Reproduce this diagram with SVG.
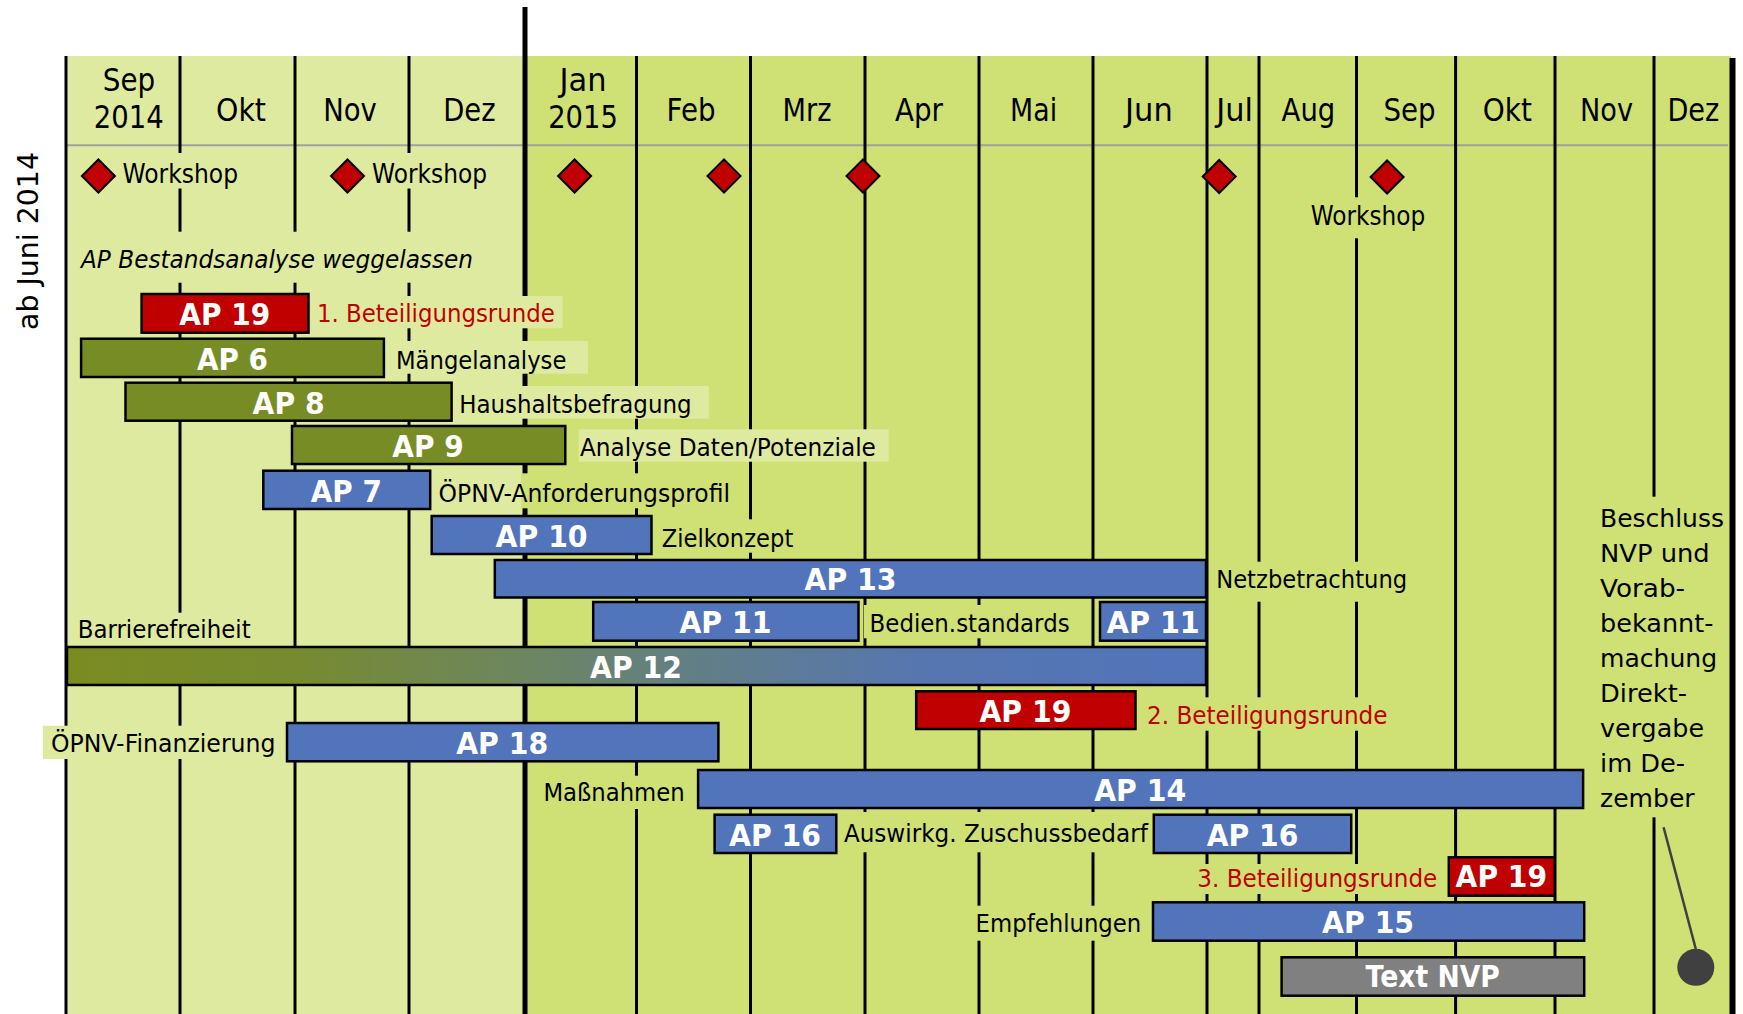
<svg xmlns="http://www.w3.org/2000/svg" width="1743" height="1014" viewBox="0 0 1743 1014">
<style>
text{font-family:'DejaVu Sans','Liberation Sans',sans-serif}
.mo{font-size:31.5px;fill:#000}
.lb{font-size:25.5px;fill:#000}
.ws{font-size:26.5px;fill:#000}
.red{fill:#C00000}
.bt{font-size:30.5px;font-weight:bold;fill:#fff}
.vl{stroke:#000;stroke-width:3;fill:none}
.bar{stroke:#000;stroke-width:2.5}
.ol{fill:#788C26}
.bl{fill:#5274BA}
.rd{fill:#C00000}
.gy{fill:#808080}
.lbg{fill:#DFEAA1}
.dbg{fill:#CFE075}
.dia{fill:#C00000;stroke:#000;stroke-width:2}
</style>
<defs>
<linearGradient id="g12" x1="67" y1="0" x2="1206" y2="0" gradientUnits="userSpaceOnUse">
<stop offset="0" stop-color="#7A8C20"/>
<stop offset="0.2" stop-color="#778A30"/>
<stop offset="0.4" stop-color="#6D8660"/>
<stop offset="0.55" stop-color="#627F86"/>
<stop offset="0.75" stop-color="#5676B0"/>
<stop offset="1" stop-color="#5274BA"/>
</linearGradient>
<path id="dm" class="dia" d="M0,-16.5 L16.5,0 L0,16.5 L-16.5,0Z"/>
</defs>
<rect width="1743" height="1014" fill="#fff"/>
<g id="background">
<rect x="66" y="56" width="459" height="958" class="lbg"/>
<rect x="525" y="56" width="1206" height="958" class="dbg"/>
<line x1="66" y1="145.3" x2="1728" y2="145.3" stroke="#A0A0A0" stroke-width="2"/>
</g>
<g id="grid">
<path class="vl" d="M66,56V1014M180,56V1014M295,56V1014M409,56V1014M636.5,56V1014M750.5,56V1014M865,56V1014M979,56V1014M1093,56V1014M1207,56V1014M1259,56V1014M1356.5,56V1014M1455.6,56V1014M1555,56V1014M1654,56V1014"/>
<line x1="525" y1="7" x2="525" y2="1014" stroke="#000" stroke-width="5"/>
<rect x="1729.5" y="58" width="6" height="956" fill="#000"/>
</g>
<g id="month-labels">
<text class="mo" x="102.8" y="90.7" textLength="52.4" lengthAdjust="spacingAndGlyphs">Sep</text>
<text class="mo" x="93.8" y="128.3" textLength="70" lengthAdjust="spacingAndGlyphs">2014</text>
<text class="mo" x="216" y="120.7" textLength="50" lengthAdjust="spacingAndGlyphs">Okt</text>
<text class="mo" x="323.2" y="120.7" textLength="53.6" lengthAdjust="spacingAndGlyphs">Nov</text>
<text class="mo" x="443.2" y="120.7" textLength="52.4" lengthAdjust="spacingAndGlyphs">Dez</text>
<text class="mo" x="559.5" y="90.7" textLength="47" lengthAdjust="spacingAndGlyphs">Jan</text>
<text class="mo" x="548.2" y="128.3" textLength="69.7" lengthAdjust="spacingAndGlyphs">2015</text>
<text class="mo" x="666.5" y="120.7" textLength="49" lengthAdjust="spacingAndGlyphs">Feb</text>
<text class="mo" x="782.5" y="120.7" textLength="49" lengthAdjust="spacingAndGlyphs">Mrz</text>
<text class="mo" x="895" y="120.7" textLength="48" lengthAdjust="spacingAndGlyphs">Apr</text>
<text class="mo" x="1010.1" y="120.7" textLength="47" lengthAdjust="spacingAndGlyphs">Mai</text>
<text class="mo" x="1125.1" y="120.7" textLength="47.8" lengthAdjust="spacingAndGlyphs">Jun</text>
<text class="mo" x="1216.2" y="120.7" textLength="36.7" lengthAdjust="spacingAndGlyphs">Jul</text>
<text class="mo" x="1281.6" y="120.7" textLength="53.7" lengthAdjust="spacingAndGlyphs">Aug</text>
<text class="mo" x="1383.4" y="120.7" textLength="52.2" lengthAdjust="spacingAndGlyphs">Sep</text>
<text class="mo" x="1482.8" y="120.7" textLength="49.2" lengthAdjust="spacingAndGlyphs">Okt</text>
<text class="mo" x="1580" y="120.7" textLength="53" lengthAdjust="spacingAndGlyphs">Nov</text>
<text class="mo" x="1667.4" y="120.7" textLength="51.8" lengthAdjust="spacingAndGlyphs">Dez</text>
</g>
<g id="label-boxes">
<rect class="lbg" x="118" y="153" width="124" height="35.5"/>
<rect class="lbg" x="368" y="153" width="123" height="35.5"/>
<rect class="dbg" x="1306" y="197.3" width="124" height="41"/>
<rect class="lbg" x="75" y="231.7" width="405" height="51"/>
<rect class="lbg" x="315.7" y="296" width="246.9" height="32.3"/>
<rect class="lbg" x="392" y="341" width="196" height="32.7"/>
<rect class="lbg" x="455" y="386" width="253.8" height="32.7"/>
<rect class="lbg" x="578.7" y="429.3" width="310" height="32.4"/>
<rect class="dbg" x="521" y="473.3" width="214" height="35"/>
<rect class="dbg" x="656" y="519.3" width="142" height="33.4"/>
<rect class="dbg" x="1212" y="561.7" width="200" height="40"/>
<rect class="dbg" x="864" y="605" width="210" height="33.3"/>
<rect class="lbg" x="72" y="612.7" width="184" height="34"/>
<rect class="dbg" x="1143" y="697.3" width="249" height="33.4"/>
<rect class="lbg" x="42.9" y="725.7" width="240" height="33.3"/>
<rect class="dbg" x="540" y="775.7" width="149" height="33.3"/>
<rect class="dbg" x="840" y="812" width="310" height="40.3"/>
<rect class="dbg" x="1193" y="864" width="249" height="30"/>
<rect class="dbg" x="971" y="905.7" width="175" height="35"/>
<rect class="dbg" x="1594" y="496.7" width="135" height="320.6"/>
</g>
<g id="milestones">
<use href="#dm" x="98.4" y="176"/>
<use href="#dm" x="347.5" y="176"/>
<use href="#dm" x="574.6" y="176"/>
<use href="#dm" x="724" y="176"/>
<use href="#dm" x="863" y="176"/>
<use href="#dm" x="1219.2" y="176.5"/>
<use href="#dm" x="1387.1" y="177"/>
<text class="ws" x="122.5" y="182.7" textLength="115.5" lengthAdjust="spacingAndGlyphs">Workshop</text>
<text class="ws" x="372" y="182.7" textLength="115" lengthAdjust="spacingAndGlyphs">Workshop</text>
<text class="ws" x="1310.7" y="225" textLength="114.6" lengthAdjust="spacingAndGlyphs">Workshop</text>
</g>
<text x="81" y="267.7" font-size="25" font-style="italic" textLength="392" lengthAdjust="spacingAndGlyphs">AP Bestandsanalyse weggelassen</text>
<g id="ap19a"><rect class="bar rd" x="141.6" y="294" width="166.9" height="38.7"/><text class="bt" x="179.3" y="325" textLength="91" lengthAdjust="spacingAndGlyphs">AP 19</text><text class="lb red" x="316.9" y="322.3" textLength="238" lengthAdjust="spacingAndGlyphs">1. Beteiligungsrunde</text></g>
<g id="ap6"><rect class="bar ol" x="81.1" y="338.7" width="302.8" height="38.3"/><text class="bt" x="197" y="370" textLength="71" lengthAdjust="spacingAndGlyphs">AP 6</text><text class="lb" x="396" y="369.3" textLength="170.4" lengthAdjust="spacingAndGlyphs">Mängelanalyse</text></g>
<g id="ap8"><rect class="bar ol" x="125.5" y="382.7" width="326.1" height="38"/><text class="bt" x="252.6" y="414" textLength="72" lengthAdjust="spacingAndGlyphs">AP 8</text><text class="lb" x="459.2" y="412.7" textLength="232.4" lengthAdjust="spacingAndGlyphs">Haushaltsbefragung</text></g>
<g id="ap9"><rect class="bar ol" x="292" y="426" width="273.3" height="38"/><text class="bt" x="392.3" y="457.3" textLength="71.5" lengthAdjust="spacingAndGlyphs">AP 9</text><text class="lb" x="579.9" y="456" textLength="296" lengthAdjust="spacingAndGlyphs">Analyse Daten/Potenziale</text></g>
<g id="ap7"><rect class="bar bl" x="263.3" y="470.7" width="166.9" height="38.3"/><text class="bt" x="310.8" y="501.7" textLength="71" lengthAdjust="spacingAndGlyphs">AP 7</text><text class="lb" x="438.5" y="501.7" textLength="291.5" lengthAdjust="spacingAndGlyphs">ÖPNV-Anforderungsprofil</text></g>
<g id="ap10"><rect class="bar bl" x="431.7" y="516" width="219.8" height="38"/><text class="bt" x="495.6" y="546.7" textLength="92" lengthAdjust="spacingAndGlyphs">AP 10</text><text class="lb" x="661.7" y="546.7" textLength="131.6" lengthAdjust="spacingAndGlyphs">Zielkonzept</text></g>
<g id="ap13"><rect class="bar bl" x="494.8" y="560" width="711.2" height="37.5"/><text class="bt" x="804.5" y="590" textLength="92" lengthAdjust="spacingAndGlyphs">AP 13</text><text class="lb" x="1216.2" y="588.3" textLength="191" lengthAdjust="spacingAndGlyphs">Netzbetrachtung</text></g>
<g id="ap11a"><rect class="bar bl" x="593.2" y="602" width="265.3" height="38.7"/><text class="bt" x="679.4" y="633.3" textLength="92" lengthAdjust="spacingAndGlyphs">AP 11</text><text class="lb" x="869.6" y="631.7" textLength="200" lengthAdjust="spacingAndGlyphs">Bedien.standards</text></g>
<g id="ap11b"><rect class="bar bl" x="1100" y="602" width="106" height="38.7"/><text class="bt" x="1106.8" y="633.3" textLength="93" lengthAdjust="spacingAndGlyphs">AP 11</text></g>
<g id="ap12"><text class="lb" x="77.7" y="638.3" textLength="173" lengthAdjust="spacingAndGlyphs">Barrierefreiheit</text><rect class="bar" fill="url(#g12)" x="67" y="647" width="1139" height="38"/><text class="bt" x="590" y="678" textLength="92" lengthAdjust="spacingAndGlyphs">AP 12</text></g>
<g id="ap19b"><rect class="bar rd" x="916.2" y="691.3" width="219.3" height="37.7"/><text class="bt" x="979.4" y="722.3" textLength="92" lengthAdjust="spacingAndGlyphs">AP 19</text><text class="lb red" x="1147" y="724" textLength="240.5" lengthAdjust="spacingAndGlyphs">2. Beteiligungsrunde</text></g>
<g id="ap18"><text class="lb" x="50.9" y="752.3" textLength="224.6" lengthAdjust="spacingAndGlyphs">ÖPNV-Finanzierung</text><rect class="bar bl" x="287" y="723" width="431.4" height="38.3"/><text class="bt" x="456.2" y="754" textLength="92" lengthAdjust="spacingAndGlyphs">AP 18</text></g>
<g id="ap14"><text class="lb" x="543.4" y="801.3" textLength="141.3" lengthAdjust="spacingAndGlyphs">Maßnahmen</text><rect class="bar bl" x="698.1" y="770" width="885" height="38"/><text class="bt" x="1094.2" y="800.7" textLength="92" lengthAdjust="spacingAndGlyphs">AP 14</text></g>
<g id="ap16a"><rect class="bar bl" x="714.6" y="814.7" width="121.7" height="38.3"/><text class="bt" x="729" y="845.7" textLength="92" lengthAdjust="spacingAndGlyphs">AP 16</text><text class="lb" x="843.9" y="842.3" textLength="303.9" lengthAdjust="spacingAndGlyphs">Auswirkg. Zuschussbedarf</text></g>
<g id="ap16b"><rect class="bar bl" x="1153.8" y="814.7" width="197.4" height="38.3"/><text class="bt" x="1206.7" y="845.7" textLength="91.6" lengthAdjust="spacingAndGlyphs">AP 16</text></g>
<g id="ap19c"><text class="lb red" x="1197.3" y="886.7" textLength="240" lengthAdjust="spacingAndGlyphs">3. Beteiligungsrunde</text><rect class="bar rd" x="1448.8" y="857.3" width="105.9" height="38.4"/><text class="bt" x="1455.6" y="887.3" textLength="91.5" lengthAdjust="spacingAndGlyphs">AP 19</text></g>
<g id="ap15"><text class="lb" x="975.6" y="932.3" textLength="165.7" lengthAdjust="spacingAndGlyphs">Empfehlungen</text><rect class="bar bl" x="1153" y="902.3" width="431.2" height="38.4"/><text class="bt" x="1322.1" y="933.3" textLength="92" lengthAdjust="spacingAndGlyphs">AP 15</text></g>
<g id="textnvp"><rect class="bar gy" x="1281.6" y="957.3" width="302.6" height="38.4"/><text class="bt" x="1365.6" y="987.3" textLength="134.3" lengthAdjust="spacingAndGlyphs">Text NVP</text></g>
<g id="beschluss">
<text class="lb" x="1600" y="526.7" textLength="124" lengthAdjust="spacingAndGlyphs">Beschluss</text>
<text class="lb" x="1600" y="561.7" textLength="109.7" lengthAdjust="spacingAndGlyphs">NVP und</text>
<text class="lb" x="1600" y="596.7" textLength="85.1" lengthAdjust="spacingAndGlyphs">Vorab-</text>
<text class="lb" x="1600" y="631.7" textLength="113.5" lengthAdjust="spacingAndGlyphs">bekannt-</text>
<text class="lb" x="1600" y="666.7" textLength="117.2" lengthAdjust="spacingAndGlyphs">machung</text>
<text class="lb" x="1600" y="701.7" textLength="87" lengthAdjust="spacingAndGlyphs">Direkt-</text>
<text class="lb" x="1600" y="736.7" textLength="104" lengthAdjust="spacingAndGlyphs">vergabe</text>
<text class="lb" x="1600" y="771.7" textLength="85.1" lengthAdjust="spacingAndGlyphs">im De-</text>
<text class="lb" x="1600" y="806.7" textLength="94.6" lengthAdjust="spacingAndGlyphs">zember</text>
</g>
<g id="connectors">
<line x1="1663.6" y1="827.3" x2="1695.8" y2="949" stroke="#404040" stroke-width="2.5"/>
<circle cx="1695.8" cy="967.3" r="18.5" fill="#404040"/>
</g>
<text transform="translate(37.5,330) rotate(-90)" font-size="28" textLength="178" lengthAdjust="spacingAndGlyphs">ab Juni 2014</text>
</svg>
